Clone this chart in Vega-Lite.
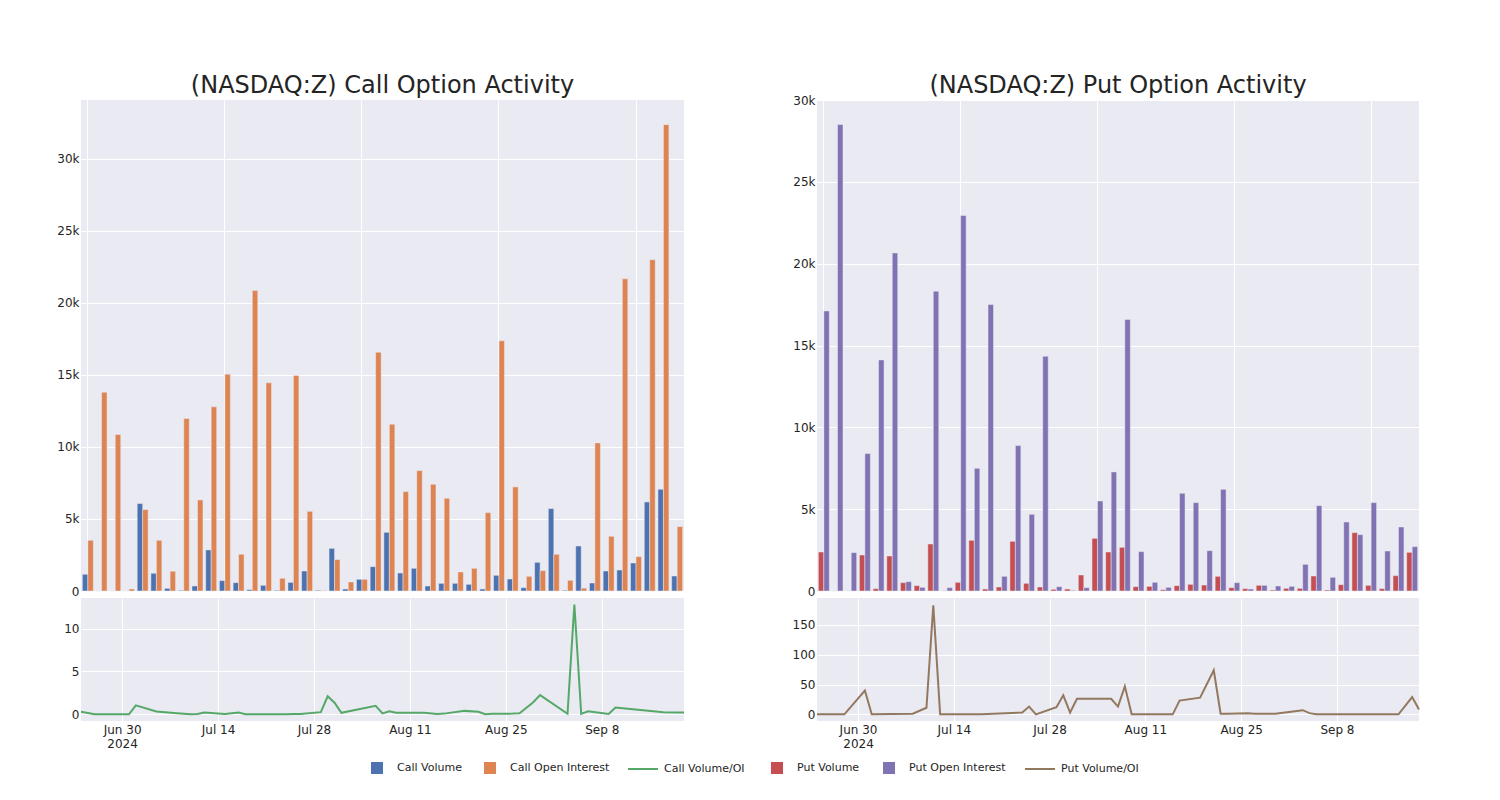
{
  "$schema": "https://vega.github.io/schema/vega-lite/v6.json",
  "padding": {"left": 56, "top": 74, "right": 10, "bottom": 10},
  "background": "white",
  "config": {
    "font": "DejaVu Sans",
    "view": {"fill": "#eaeaf2", "stroke": null},
    "axis": {"gridColor": "white", "gridWidth": 1, "domain": false, "ticks": false, "labelFontSize": 12, "labelColor": "#242424", "labelPadding": 2, "title": null},
    "title": {"fontSize": 24, "fontWeight": "normal", "color": "#242424", "frame": "group", "anchor": "middle", "baseline": "alphabetic"},
    "legend": {"orient": "none", "direction": "horizontal", "title": null, "labelFontSize": 11, "labelColor": "#242424"}
  },
  "datasets": {
    "calls": [
      {"i": 0, "date": "2024-06-24", "Call Volume": 1160, "Call Open Interest": 3520, "ratio": 0.3},
      {"i": 1, "date": "2024-06-26", "Call Volume": 0, "Call Open Interest": 13800, "ratio": 0},
      {"i": 2, "date": "2024-06-28", "Call Volume": 0, "Call Open Interest": 10860, "ratio": 0},
      {"i": 3, "date": "2024-07-01", "Call Volume": 0, "Call Open Interest": 140, "ratio": 0},
      {"i": 4, "date": "2024-07-02", "Call Volume": 6070, "Call Open Interest": 5650, "ratio": 1.05},
      {"i": 5, "date": "2024-07-05", "Call Volume": 1230, "Call Open Interest": 3520, "ratio": 0.33},
      {"i": 6, "date": "2024-07-08", "Call Volume": 185, "Call Open Interest": 1370, "ratio": 0.12},
      {"i": 7, "date": "2024-07-10", "Call Volume": 46, "Call Open Interest": 11970, "ratio": 0},
      {"i": 8, "date": "2024-07-11", "Call Volume": 350, "Call Open Interest": 6320, "ratio": 0.05},
      {"i": 9, "date": "2024-07-12", "Call Volume": 2850, "Call Open Interest": 12780, "ratio": 0.2},
      {"i": 10, "date": "2024-07-15", "Call Volume": 720, "Call Open Interest": 15050, "ratio": 0.03},
      {"i": 11, "date": "2024-07-17", "Call Volume": 580, "Call Open Interest": 2550, "ratio": 0.2},
      {"i": 12, "date": "2024-07-18", "Call Volume": 93, "Call Open Interest": 20860, "ratio": 0},
      {"i": 13, "date": "2024-07-24", "Call Volume": 394, "Call Open Interest": 14450, "ratio": 0.02},
      {"i": 14, "date": "2024-07-25", "Call Volume": 46, "Call Open Interest": 880, "ratio": 0.04},
      {"i": 15, "date": "2024-07-26", "Call Volume": 600, "Call Open Interest": 14960, "ratio": 0.04},
      {"i": 16, "date": "2024-07-29", "Call Volume": 1390, "Call Open Interest": 5530, "ratio": 0.25},
      {"i": 17, "date": "2024-07-30", "Call Volume": 46, "Call Open Interest": 22, "ratio": 2.1},
      {"i": 18, "date": "2024-07-31", "Call Volume": 2960, "Call Open Interest": 2180, "ratio": 1.35},
      {"i": 19, "date": "2024-08-01", "Call Volume": 139, "Call Open Interest": 625, "ratio": 0.17},
      {"i": 20, "date": "2024-08-06", "Call Volume": 810, "Call Open Interest": 810, "ratio": 1.0},
      {"i": 21, "date": "2024-08-07", "Call Volume": 1690, "Call Open Interest": 16575, "ratio": 0.1},
      {"i": 22, "date": "2024-08-08", "Call Volume": 4074, "Call Open Interest": 11575, "ratio": 0.35},
      {"i": 23, "date": "2024-08-09", "Call Volume": 1250, "Call Open Interest": 6900, "ratio": 0.18},
      {"i": 24, "date": "2024-08-13", "Call Volume": 1574, "Call Open Interest": 8357, "ratio": 0.19},
      {"i": 25, "date": "2024-08-15", "Call Volume": 347, "Call Open Interest": 7408, "ratio": 0.03},
      {"i": 26, "date": "2024-08-16", "Call Volume": 532, "Call Open Interest": 6436, "ratio": 0.08},
      {"i": 27, "date": "2024-08-19", "Call Volume": 532, "Call Open Interest": 1320, "ratio": 0.4},
      {"i": 28, "date": "2024-08-21", "Call Volume": 463, "Call Open Interest": 1574, "ratio": 0.29},
      {"i": 29, "date": "2024-08-22", "Call Volume": 139, "Call Open Interest": 5440, "ratio": 0.02},
      {"i": 30, "date": "2024-08-23", "Call Volume": 1088, "Call Open Interest": 17363, "ratio": 0.06},
      {"i": 31, "date": "2024-08-26", "Call Volume": 833, "Call Open Interest": 7223, "ratio": 0.08},
      {"i": 32, "date": "2024-08-27", "Call Volume": 232, "Call Open Interest": 1019, "ratio": 0.12},
      {"i": 33, "date": "2024-08-29", "Call Volume": 1991, "Call Open Interest": 1412, "ratio": 1.4},
      {"i": 34, "date": "2024-08-30", "Call Volume": 5718, "Call Open Interest": 2547, "ratio": 2.24},
      {"i": 35, "date": "2024-09-03", "Call Volume": 46, "Call Open Interest": 741, "ratio": 0.06},
      {"i": 36, "date": "2024-09-04", "Call Volume": 3125, "Call Open Interest": 200, "ratio": 12.8},
      {"i": 37, "date": "2024-09-05", "Call Volume": 556, "Call Open Interest": 10279, "ratio": 0.05},
      {"i": 38, "date": "2024-09-06", "Call Volume": 1389, "Call Open Interest": 3797, "ratio": 0.35},
      {"i": 39, "date": "2024-09-09", "Call Volume": 1458, "Call Open Interest": 21668, "ratio": 0.05},
      {"i": 40, "date": "2024-09-10", "Call Volume": 1945, "Call Open Interest": 2384, "ratio": 0.8},
      {"i": 41, "date": "2024-09-17", "Call Volume": 6181, "Call Open Interest": 22988, "ratio": 0.25},
      {"i": 42, "date": "2024-09-19", "Call Volume": 7061, "Call Open Interest": 32364, "ratio": 0.2},
      {"i": 43, "date": "2024-09-20", "Call Volume": 1042, "Call Open Interest": 4468, "ratio": 0.22}
    ],
    "puts": [
      {"i": 0, "date": "2024-06-24", "Put Volume": 2385, "Put Open Interest": 17120, "ratio": 0},
      {"i": 1, "date": "2024-06-26", "Put Volume": 0, "Put Open Interest": 28512, "ratio": 0},
      {"i": 2, "date": "2024-06-28", "Put Volume": 0, "Put Open Interest": 2344, "ratio": 0},
      {"i": 3, "date": "2024-07-01", "Put Volume": 2201, "Put Open Interest": 8397, "ratio": 40},
      {"i": 4, "date": "2024-07-02", "Put Volume": 143, "Put Open Interest": 14123, "ratio": 0},
      {"i": 5, "date": "2024-07-05", "Put Volume": 2140, "Put Open Interest": 20665, "ratio": 0.5},
      {"i": 6, "date": "2024-07-08", "Put Volume": 510, "Put Open Interest": 571, "ratio": 1},
      {"i": 7, "date": "2024-07-10", "Put Volume": 326, "Put Open Interest": 224, "ratio": 11},
      {"i": 8, "date": "2024-07-11", "Put Volume": 2874, "Put Open Interest": 18322, "ratio": 183},
      {"i": 9, "date": "2024-07-12", "Put Volume": 10, "Put Open Interest": 204, "ratio": 0},
      {"i": 10, "date": "2024-07-15", "Put Volume": 530, "Put Open Interest": 22948, "ratio": 0},
      {"i": 11, "date": "2024-07-17", "Put Volume": 3098, "Put Open Interest": 7500, "ratio": 0},
      {"i": 12, "date": "2024-07-18", "Put Volume": 122, "Put Open Interest": 17506, "ratio": 0},
      {"i": 13, "date": "2024-07-24", "Put Volume": 245, "Put Open Interest": 897, "ratio": 3},
      {"i": 14, "date": "2024-07-25", "Put Volume": 3037, "Put Open Interest": 8886, "ratio": 13},
      {"i": 15, "date": "2024-07-26", "Put Volume": 469, "Put Open Interest": 4687, "ratio": 0},
      {"i": 16, "date": "2024-07-29", "Put Volume": 245, "Put Open Interest": 14348, "ratio": 12},
      {"i": 17, "date": "2024-07-30", "Put Volume": 102, "Put Open Interest": 265, "ratio": 32},
      {"i": 18, "date": "2024-07-31", "Put Volume": 122, "Put Open Interest": 41, "ratio": 3},
      {"i": 19, "date": "2024-08-01", "Put Volume": 978, "Put Open Interest": 204, "ratio": 26},
      {"i": 20, "date": "2024-08-06", "Put Volume": 3220, "Put Open Interest": 5503, "ratio": 26},
      {"i": 21, "date": "2024-08-07", "Put Volume": 2385, "Put Open Interest": 7276, "ratio": 13},
      {"i": 22, "date": "2024-08-08", "Put Volume": 2670, "Put Open Interest": 16590, "ratio": 47},
      {"i": 23, "date": "2024-08-09", "Put Volume": 265, "Put Open Interest": 2405, "ratio": 0},
      {"i": 24, "date": "2024-08-13", "Put Volume": 285, "Put Open Interest": 530, "ratio": 0},
      {"i": 25, "date": "2024-08-15", "Put Volume": 82, "Put Open Interest": 224, "ratio": 0},
      {"i": 26, "date": "2024-08-16", "Put Volume": 326, "Put Open Interest": 5971, "ratio": 23},
      {"i": 27, "date": "2024-08-19", "Put Volume": 408, "Put Open Interest": 5401, "ratio": 28},
      {"i": 28, "date": "2024-08-21", "Put Volume": 367, "Put Open Interest": 2466, "ratio": 74},
      {"i": 29, "date": "2024-08-22", "Put Volume": 897, "Put Open Interest": 6216, "ratio": 1},
      {"i": 30, "date": "2024-08-23", "Put Volume": 204, "Put Open Interest": 510, "ratio": 1},
      {"i": 31, "date": "2024-08-26", "Put Volume": 143, "Put Open Interest": 122, "ratio": 2},
      {"i": 32, "date": "2024-08-27", "Put Volume": 346, "Put Open Interest": 346, "ratio": 1},
      {"i": 33, "date": "2024-08-29", "Put Volume": 61, "Put Open Interest": 306, "ratio": 1},
      {"i": 34, "date": "2024-08-30", "Put Volume": 163, "Put Open Interest": 285, "ratio": 1},
      {"i": 35, "date": "2024-09-03", "Put Volume": 163, "Put Open Interest": 1630, "ratio": 7},
      {"i": 36, "date": "2024-09-04", "Put Volume": 917, "Put Open Interest": 5217, "ratio": 2},
      {"i": 37, "date": "2024-09-05", "Put Volume": 61, "Put Open Interest": 836, "ratio": 0},
      {"i": 38, "date": "2024-09-06", "Put Volume": 387, "Put Open Interest": 4219, "ratio": 0},
      {"i": 39, "date": "2024-09-09", "Put Volume": 3567, "Put Open Interest": 3444, "ratio": 0},
      {"i": 40, "date": "2024-09-10", "Put Volume": 346, "Put Open Interest": 5401, "ratio": 0},
      {"i": 41, "date": "2024-09-17", "Put Volume": 143, "Put Open Interest": 2446, "ratio": 0},
      {"i": 42, "date": "2024-09-19", "Put Volume": 937, "Put Open Interest": 3913, "ratio": 29},
      {"i": 43, "date": "2024-09-20", "Put Volume": 2364, "Put Open Interest": 2711, "ratio": 8}
    ]
  },
  "spacing": 26,
  "resolve": {"scale": {"fill": "independent", "stroke": "independent"}, "legend": {"fill": "independent", "stroke": "independent"}},
  "hconcat": [
    {
      "spacing": 1,
      "resolve": {"scale": {"x": "independent", "y": "independent", "xOffset": "independent"}},
      "vconcat": [
        {
          "width": 603,
          "height": 491,
          "title": {"text": "(NASDAQ:Z) Call Option Activity", "offset": 2},
          "data": {"name": "calls"},
          "transform": [{"fold": ["Call Volume", "Call Open Interest"], "as": ["series", "value"]}],
          "mark": {"type": "bar", "stroke": "#eaeaf2", "strokeWidth": 0.5},
          "encoding": {
            "x": {"field": "i", "type": "ordinal", "scale": {"paddingInner": 0.2, "paddingOuter": 0.1}, "axis": {"values": [0, 10, 20, 30, 40], "labels": false, "grid": true, "bandPosition": 0.5}},
            "xOffset": {"field": "series", "type": "nominal", "scale": {"domain": ["Call Volume", "Call Open Interest"], "paddingInner": 0, "paddingOuter": 0}},
            "y": {"field": "value", "type": "quantitative", "scale": {"domain": [0, 34076], "nice": false}, "axis": {"values": [0, 5000, 10000, 15000, 20000, 25000, 30000], "labelExpr": "datum.value == 0 ? '0' : (datum.value / 1000) + 'k'"}},
            "fill": {"field": "series", "type": "nominal",
              "scale": {"domain": ["Call Volume", "Call Open Interest"], "range": ["#4c72b0", "#dd8452"]},
              "legend": {"legendX": 290, "legendY": 662, "symbolType": "square", "symbolSize": 144, "symbolStrokeWidth": 0, "labelOffset": 14, "columnPadding": 22}}
          }
        },
        {
          "width": 603,
          "height": 123,
          "data": {"name": "calls"},
          "mark": {"type": "line", "strokeWidth": 2},
          "encoding": {
            "x": {"field": "date", "type": "temporal", "scale": {"type": "utc", "domain": [{"year": 2024, "month": 6, "date": 24, "utc": true}, {"year": 2024, "month": 9, "date": 20, "utc": true}]},
              "axis": {"values": [{"year": 2024, "month": 6, "date": 30, "utc": true}, {"year": 2024, "month": 7, "date": 14, "utc": true}, {"year": 2024, "month": 7, "date": 28, "utc": true}, {"year": 2024, "month": 8, "date": 11, "utc": true}, {"year": 2024, "month": 8, "date": 25, "utc": true}, {"year": 2024, "month": 9, "date": 8, "utc": true}],
                "labelExpr": "utcFormat(datum.value, '%b %-d') == 'Jun 30' ? ['Jun 30', '2024'] : utcFormat(datum.value, '%b %-d')", "labelPadding": 3, "grid": true}},
            "y": {"field": "ratio", "type": "quantitative", "scale": {"domain": [-0.78, 13.56], "nice": false, "zero": false}, "axis": {"values": [0, 5, 10]}},
            "stroke": {"datum": "Call Volume/OI", "type": "nominal",
              "scale": {"domain": ["Call Volume/OI"], "range": ["#55a868"]},
              "legend": {"legendX": 546, "legendY": 653, "symbolType": "stroke", "symbolSize": 900, "symbolStrokeWidth": 2, "labelOffset": 5}}
          }
        }
      ]
    },
    {
      "spacing": 1,
      "resolve": {"scale": {"x": "independent", "y": "independent", "xOffset": "independent"}},
      "vconcat": [
        {
          "width": 602,
          "height": 491,
          "title": {"text": "(NASDAQ:Z) Put Option Activity", "offset": -4},
          "data": {"name": "puts"},
          "transform": [{"fold": ["Put Volume", "Put Open Interest"], "as": ["series", "value"]}],
          "mark": {"type": "bar", "stroke": "#eaeaf2", "strokeWidth": 0.5},
          "encoding": {
            "x": {"field": "i", "type": "ordinal", "scale": {"paddingInner": 0.2, "paddingOuter": 0.1}, "axis": {"values": [0, 10, 20, 30, 40], "labels": false, "grid": true, "bandPosition": 0.5}},
            "xOffset": {"field": "series", "type": "nominal", "scale": {"domain": ["Put Volume", "Put Open Interest"], "paddingInner": 0, "paddingOuter": 0}},
            "y": {"field": "value", "type": "quantitative", "scale": {"domain": [0, 30012], "nice": false}, "axis": {"values": [0, 5000, 10000, 15000, 20000, 25000, 30000], "labelExpr": "datum.value == 0 ? '0' : (datum.value / 1000) + 'k'"}},
            "fill": {"field": "series", "type": "nominal",
              "scale": {"domain": ["Put Volume", "Put Open Interest"], "range": ["#c44e52", "#8172b3"]},
              "legend": {"legendX": -46, "legendY": 662, "symbolType": "square", "symbolSize": 144, "symbolStrokeWidth": 0, "labelOffset": 14, "columnPadding": 23}}
          }
        },
        {
          "width": 602,
          "height": 123,
          "data": {"name": "puts"},
          "mark": {"type": "line", "strokeWidth": 2},
          "encoding": {
            "x": {"field": "date", "type": "temporal", "scale": {"type": "utc", "domain": [{"year": 2024, "month": 6, "date": 24, "utc": true}, {"year": 2024, "month": 9, "date": 20, "utc": true}]},
              "axis": {"values": [{"year": 2024, "month": 6, "date": 30, "utc": true}, {"year": 2024, "month": 7, "date": 14, "utc": true}, {"year": 2024, "month": 7, "date": 28, "utc": true}, {"year": 2024, "month": 8, "date": 11, "utc": true}, {"year": 2024, "month": 8, "date": 25, "utc": true}, {"year": 2024, "month": 9, "date": 8, "utc": true}],
                "labelExpr": "utcFormat(datum.value, '%b %-d') == 'Jun 30' ? ['Jun 30', '2024'] : utcFormat(datum.value, '%b %-d')", "labelPadding": 3, "grid": true}},
            "y": {"field": "ratio", "type": "quantitative", "scale": {"domain": [-11.2, 195.3], "nice": false, "zero": false}, "axis": {"values": [0, 50, 100, 150]}},
            "stroke": {"datum": "Put Volume/OI", "type": "nominal",
              "scale": {"domain": ["Put Volume/OI"], "range": ["#937860"]},
              "legend": {"legendX": 207, "legendY": 653, "symbolType": "stroke", "symbolSize": 900, "symbolStrokeWidth": 2, "labelOffset": 5}}
          }
        }
      ]
    }
  ]
}
